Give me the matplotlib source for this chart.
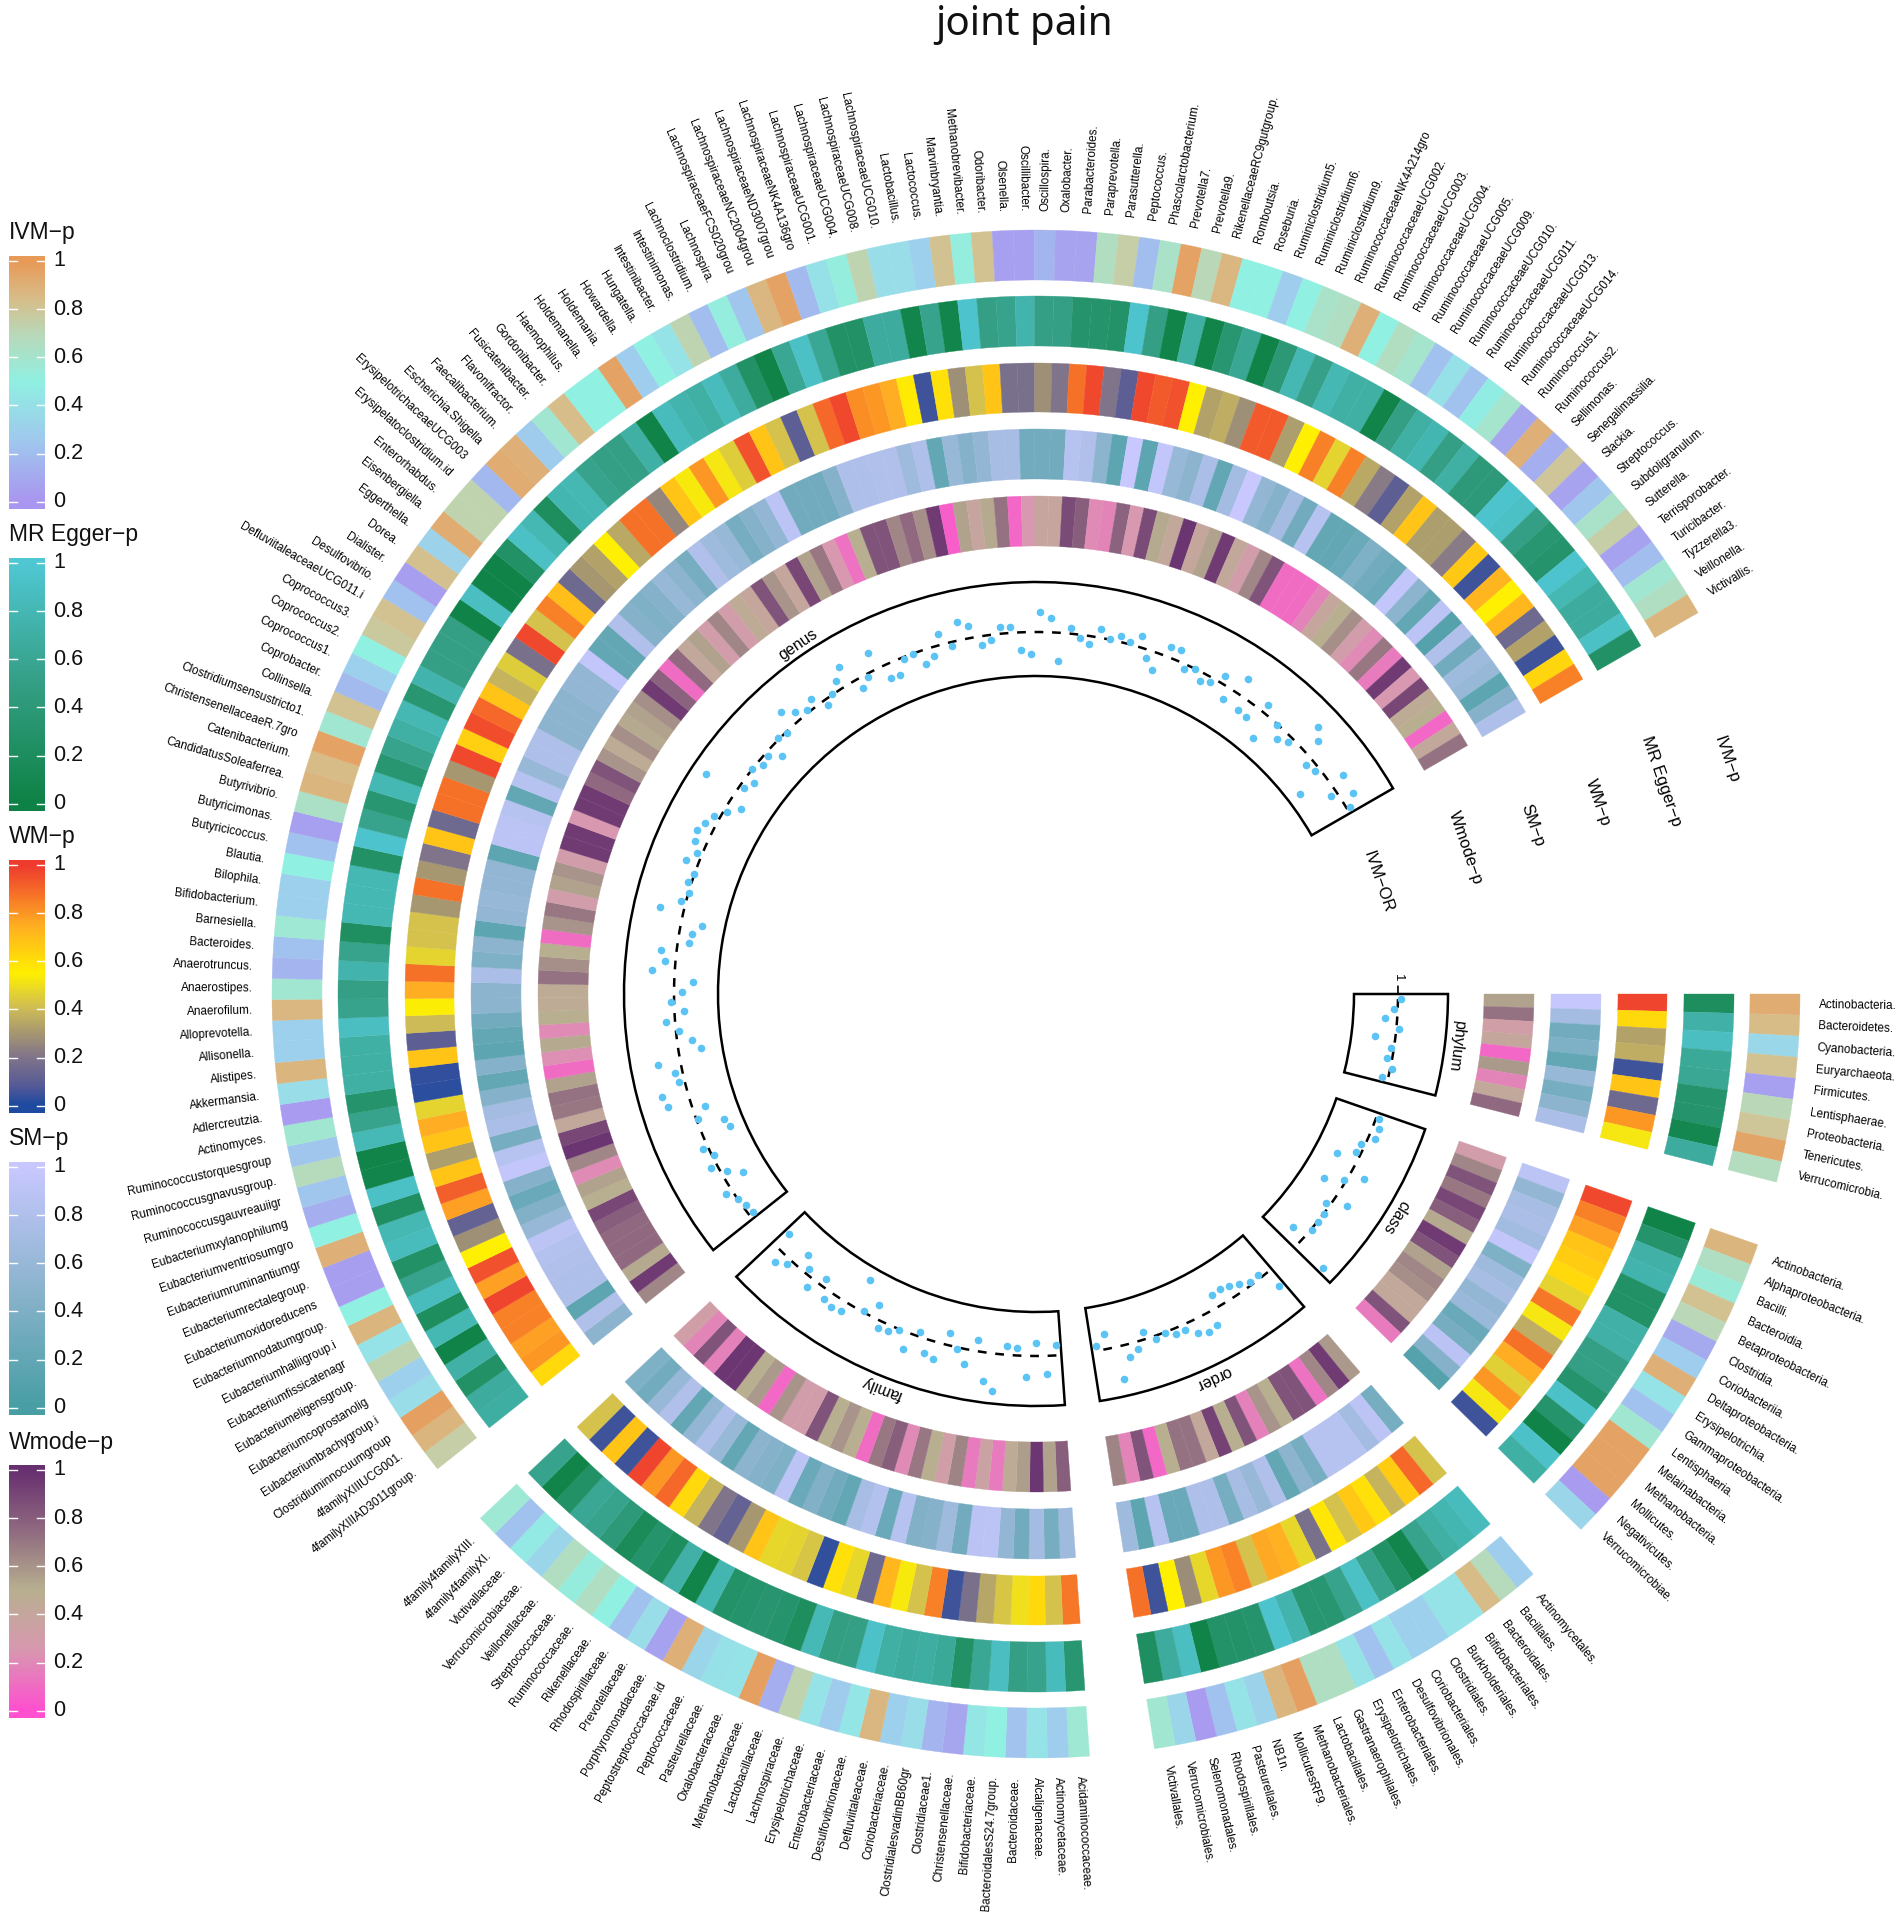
import numpy as np
import matplotlib
matplotlib.use("Agg")
import matplotlib.pyplot as plt
from matplotlib.colors import LinearSegmentedColormap

plt.rcParams['font.family'] = ['Liberation Sans', 'DejaVu Sans']

phylum_names = ["Actinobacteria.","Bacteroidetes.","Cyanobacteria.","Euryarchaeota.","Firmicutes.","Lentisphaerae.","Proteobacteria.","Tenericutes.","Verrucomicrobia."]
phylum_ivm = [.92,.85,.35,.82,.05,.7,.8,.95,.67]
phylum_egger = [.2,.72,.88,.62,.6,.3,.3,.08,.65]
phylum_wm = [.98,.62,.33,.36,.05,.68,.15,.8,.52]
phylum_sm = [.98,.7,.3,.4,.2,.6,.35,.5,.75]
phylum_wmode = [.55,.72,.32,.4,.08,.58,.18,.42,.75]
phylum_or = [1.011,.985,.950,1.011,.913,.987,.978,1.007,.974]

class_names = ["Actinobacteria.","Alphaproteobacteria.","Bacilli.","Bacteroidia.","Betaproteobacteria.","Clostridia.","Coriobacteriia.","Deltaproteobacteria.","Erysipelotrichia.","Gammaproteobacteria.","Lentisphaeria.","Melainabacteria.","Methanobacteria.","Mollicutes.","Negativicutes.","Verrucomicrobiae."]
class_ivm = [.88,.65,.55,.82,.7,.1,.28,.9,.42,.22,.58,.96,.96,.96,.03,.33]
class_egger = [.02,.3,.72,.75,.25,.25,.72,.72,.5,.5,.3,.92,.3,.02,.92,.7]
class_wm = [.97,.85,.78,.68,.66,.62,.47,.87,.52,.36,.88,.75,.46,.8,.52,.05]
class_sm = [.9,.55,.72,.75,.68,.95,.4,.65,.72,.55,.62,.25,.35,.88,.45,.1]
class_wmode = [.3,.65,.85,.7,.9,.8,.52,.95,.85,.55,.65,.62,.42,.42,.85,.15]
class_or = [1.013,1.028,1.030,.983,.976,.909,1.063,.991,.915,1.061,.980,1.004,1.002,1.004,.935,1.15]

order_names = ["Actinomycetales.","Bacillales.","Bacteroidales.","Bifidobacteriales.","Burkholderiales.","Clostridiales.","Coriobacteriales.","Desulfovibrionales.","Enterobacteriales.","Erysipelotrichales.","Gastranaerophilales.","Lactobacillales.","Methanobacteriales.","MollicutesRF9.","NB1n.","Pasteurellales.","Rhodospirillales.","Selenomonadales.","Verrucomicrobiales.","Victivallales."]
order_ivm = [.28,.68,.85,.42,.42,.3,.3,.42,.22,.42,.65,.65,.97,.88,.32,.42,.22,.03,.33,.58]
order_egger = [.85,.78,.7,.55,.05,.25,.55,.9,.55,.35,.35,.75,.95,.3,.28,.28,.02,.88,.65,.22]
order_wm = [.42,.9,.66,.38,.6,.67,.42,.58,.18,.48,.74,.76,.42,.84,.8,.48,.27,.55,.05,.88]
order_sm = [.35,.9,.7,.85,.85,.85,.35,.5,.2,.8,.6,.72,.35,.78,.78,.25,.25,.85,.15,.65]
order_wmode = [.58,.95,.65,.12,.85,.85,.5,.6,.17,.85,.5,.92,.42,.72,.72,.5,.08,.85,.18,.66]
order_or = [1.078,.983,.985,.965,.948,.939,.943,1.065,1.076,1.059,1.022,1.024,1.004,1.013,.967,1.030,1.054,1.139,.935,.978]

family_names = ["Acidaminococcaceae.","Actinomycetaceae.","Alcaligenaceae.","Bacteroidaceae.","BacteroidalesS24.7group.","Bifidobacteriaceae.","Christensenellaceae.","Clostridiaceae1.","ClostridialesvadinBB60gr","Coriobacteriaceae.","Defluviitaleaceae.","Desulfovibrionaceae.","Enterobacteriaceae.","Erysipelotrichaceae.","Lachnospiraceae.","Lactobacillaceae.","Methanobacteriaceae.","Oxalobacteraceae.","Pasteurellaceae.","Peptococcaceae.","Peptostreptococcaceae.id","Porphyromonadaceae.","Prevotellaceae.","Rhodospirillaceae.","Rikenellaceae.","Ruminococcaceae.","Streptococcaceae.","Veillonellaceae.","Verrucomicrobiaceae.","Victivallaceae.","4family4familyXI.","4family4familyXIII."]
family_ivm = [.57,.28,.42,.23,.5,.44,.08,.15,.38,.3,.87,.43,.27,.42,.73,.12,.97,.42,.4,.33,.9,.06,.38,.22,.5,.65,.53,.66,.33,.46,.22,.57]
family_egger = [.35,.85,.55,.5,.88,.6,.25,.62,.68,.65,.7,.92,.5,.48,.82,.2,.3,.33,.3,.28,.78,.03,.72,.2,.3,.15,.4,.55,.6,.25,.03,.55]
family_wm = [.87,.42,.62,.5,.43,.34,.18,.05,.85,.42,.53,.72,.15,.48,.6,.03,.43,.47,.48,.68,.3,.12,.2,.38,.62,.9,.8,.98,.05,.68,.05,.42]
family_sm = [.65,.35,.7,.3,.55,.9,.88,.3,.65,.45,.42,.85,.25,.82,.72,.2,.3,.42,.25,.9,.4,.45,.5,.2,.6,.78,.55,.2,.8,.6,.3,.4]
family_wmode = [.8,.55,.97,.57,.45,.15,.35,.15,.66,.32,.5,.7,.2,.8,.7,.1,.5,.6,.5,.85,.3,.3,.6,.08,.58,.5,.97,.97,.17,.85,.18,.32]
family_or = [.957,1.076,.946,1.091,.967,.961,1.157,1.120,.952,1.065,1.007,.946,1.074,1.061,.980,1.074,1.004,1.028,1.030,.941,.993,.867,1.046,1.052,1.039,.967,1.043,.976,.935,1.024,1.050,.926]

genus_names = ["4familyXIIIAD3011group.","4familyXIIIUCG001.","Clostridiuminnocuumgroup","Eubacteriumbrachygroup.i","Eubacteriumcoprostanolig","Eubacteriumeligensgroup.","Eubacteriumfissicatenagr","Eubacteriumhalliigroup.i","Eubacteriumnodatumgroup.","Eubacteriumoxidoreducens","Eubacteriumrectalegroup.","Eubacteriumruminantiumgr","Eubacteriumventriosumgro","Eubacteriumxylanophilumg","Ruminococcusgauvreauiigr","Ruminococcusgnavusgroup.","Ruminococcustorquesgroup","Actinomyces.","Adlercreutzia.","Akkermansia.","Alistipes.","Allisonella.","Alloprevotella.","Anaerofilum.","Anaerostipes.","Anaerotruncus.","Bacteroides.","Barnesiella.","Bifidobacterium.","Bilophila.","Blautia.","Butyricicoccus.","Butyricimonas.","Butyrivibrio.","CandidatusSoleaferrea.","Catenibacterium.","ChristensenellaceaeR.7gro","Clostridiumsensustricto1.","Collinsella.","Coprobacter.","Coprococcus1.","Coprococcus2.","Coprococcus3.","DefluviitaleaceaeUCG011.i","Desulfovibrio.","Dialister.","Dorea.","Eggerthella.","Eisenbergiella.","Enterorhabdus.","Erysipelatoclostridium.id","ErysipelotrichaceaeUCG003","Escherichia.Shigella","Faecalibacterium.","Flavonifractor.","Fusicatenibacter.","Gordonibacter.","Haemophilus.","Holdemanella.","Holdemania.","Howardella.","Hungatella.","Intestinibacter.","Intestinimonas.","Lachnoclostridium.","Lachnospira.","LachnospiraceaeFCS020grou","LachnospiraceaeNC2004grou","LachnospiraceaeND3007grou","LachnospiraceaeNK4A136gro","LachnospiraceaeUCG001.","LachnospiraceaeUCG004.","LachnospiraceaeUCG008.","LachnospiraceaeUCG010.","Lactobacillus.","Lactococcus.","Marvinbryantia.","Methanobrevibacter.","Odoribacter.","Olsenella.","Oscillibacter.","Oscillospira.","Oxalobacter.","Parabacteroides.","Paraprevotella.","Parasutterella.","Peptococcus.","Phascolarctobacterium.","Prevotella7.","Prevotella9.","RikenellaceaeRC9gutgroup.","Romboutsia.","Roseburia.","Ruminiclostridium5.","Ruminiclostridium6.","Ruminiclostridium9.","RuminococcaceaeNK4A214gro","RuminococcaceaeUCG002.","RuminococcaceaeUCG003.","RuminococcaceaeUCG004.","RuminococcaceaeUCG005.","RuminococcaceaeUCG009.","RuminococcaceaeUCG010.","RuminococcaceaeUCG011.","RuminococcaceaeUCG013.","RuminococcaceaeUCG014.","Ruminococcus1.","Ruminococcus2.","Sellimonas.","Senegalimassilia.","Slackia.","Streptococcus.","Subdoligranulum.","Sutterella.","Terrisporobacter.","Turicibacter.","Tyzzerella3.","Veillonella.","Victivallis."]
genus_ivm = [.75,.88,.97,.38,.3,.72,.42,.88,.5,.04,.04,.9,.5,.12,.24,.68,.24,.58,.03,.38,.88,.3,.3,.87,.58,.15,.22,.57,.3,.3,.5,.22,.05,.63,.88,.85,.96,.58,.82,.18,.3,.5,.78,.82,.22,.04,.83,.32,.92,.73,.73,.17,.92,.9,.27,.58,.84,.5,.5,.96,.28,.5,.42,.72,.2,.52,.24,.87,.96,.18,.4,.52,.72,.38,.38,.3,.82,.52,.82,.05,.05,.16,.07,.07,.66,.75,.2,.62,.96,.7,.87,.5,.5,.28,.5,.62,.65,.9,.5,.66,.6,.22,.4,.22,.48,.6,.08,.9,.12,.8,.07,.24,.62,.75,.06,.2,.58,.65,.88]
genus_egger = [.68,.65,.25,.72,.02,.8,.2,.85,.55,.25,.85,.8,.22,.9,.05,.03,.82,.55,.3,.7,.7,.7,.88,.55,.5,.75,.55,.22,.8,.8,.8,.25,.95,.55,.35,.8,.35,.55,.7,.8,.35,.75,.5,.5,.5,.02,.88,.02,.02,.25,.9,.8,.2,.78,.8,.55,.5,.5,.7,.02,.85,.75,.7,.85,.65,.25,.02,.6,.9,.6,.25,.25,.65,.65,.05,.55,.05,.95,.5,.55,.75,.5,.5,.3,.3,.28,.95,.5,.03,.7,.03,.35,.6,.02,.38,.8,.52,.8,.7,.7,.03,.5,.7,.78,.5,.7,.4,.4,.95,.9,.5,.35,.3,.95,.8,.65,.65,.9,.25]
genus_wm = [.62,.8,.78,.85,.85,.98,.78,.95,.55,.28,.12,.78,.92,.68,.32,.68,.75,.47,.02,.03,.68,.1,.4,.54,.75,.88,.47,.42,.42,.3,.88,.3,.2,.68,.15,.88,.88,.3,.97,.65,.96,.9,.68,.38,.45,.18,.97,.42,.85,.7,.15,.3,.33,.55,.35,.88,.88,.25,.68,.53,.8,.52,.45,.95,.68,.42,.1,.42,.9,.97,.82,.8,.75,.57,.05,.6,.28,.42,.68,.18,.18,.28,.2,.88,.97,.2,.1,.97,.93,.95,.55,.33,.36,.28,.93,.93,.32,.55,.85,.47,.85,.35,.22,.1,.33,.68,.32,.32,.22,.67,.05,.73,.55,.72,.15,.33,.05,.63,.85]
genus_sm = [.5,.8,.15,.78,.78,.8,.82,.9,.6,.42,.25,.45,.95,.85,.35,.75,.7,.45,.2,.45,.15,.2,.3,.5,.5,.75,.4,.5,.15,.55,.6,.55,.55,.15,.9,.9,.85,.2,.85,.6,.78,.78,.5,.5,.5,.55,.55,.95,.2,.2,.8,.45,.4,.45,.6,.5,.35,.8,.65,.6,.35,.45,.55,.9,.3,.3,.3,.45,.78,.78,.8,.8,.65,.78,.2,.6,.45,.55,.72,.72,.3,.3,.3,.85,.8,.5,.15,1.0,.15,.95,.6,.5,.75,.2,.7,1.0,.55,.45,.7,.3,.85,.2,.2,.25,.4,.3,.25,.95,.5,.2,.9,.1,.8,.3,.65,.6,.15,.45,.78]
genus_wmode = [.65,.95,.52,.75,.75,.75,.8,.9,.5,.55,.2,.65,.98,.9,.42,.7,.72,.55,.1,.22,.52,.2,.5,.45,.45,.72,.62,.5,.1,.6,.7,.3,.55,.6,.3,.95,.95,.25,.95,.95,.75,.85,.6,.45,.62,.52,.55,.62,.95,.78,.1,.75,.42,.55,.3,.65,.3,.45,.4,.85,.6,.4,.9,.55,.7,.25,.12,.5,.85,.85,.65,.75,.62,.95,.05,.55,.38,.52,.72,.08,.25,.38,.38,.88,.8,.2,.18,.78,.25,.88,.52,.42,.98,.4,.55,.95,.42,.3,.65,.85,.1,.1,.1,.18,.4,.5,.62,.3,.2,.7,.15,.95,.25,.9,.45,.5,.08,.42,.72]
genus_or = [.978,.985,1.0,1.028,.920,.976,1.030,.993,1.022,.876,.889,.993,.948,1.098,1.111,1.026,1.030,1.096,.904,.935,.985,1.039,.959,1.011,.965,.922,1.096,1.046,1.067,.950,.946,.911,1.102,1.020,.996,1.015,1.002,1.054,1.022,1.050,1.063,1.043,1.026,.987,.943,1.148,.983,.959,1.004,.976,.983,.939,1.007,.996,1.076,1.037,1.011,1.037,.976,1.004,1.043,1.085,.957,.987,1.078,.939,.937,.993,.998,.941,.961,1.046,.985,1.078,1.052,.961,.976,1.030,1.024,.924,.907,1.085,1.061,.880,1.022,.987,.965,1.037,1.002,1.024,1.011,1.050,.963,.926,1.046,1.046,.980,1.0,.963,.978,1.033,.946,1.074,.943,.939,1.037,.889,.998,.952,.976,1.113,1.072,.967,.980,.870,1.065,.974,1.057,1.013]

sector_titles = ["phylum", "class", "order", "family", "genus"]
track_titles = ["IVM\u2212p", "MR Egger\u2212p", "WM\u2212p", "SM\u2212p", "Wmode\u2212p"]
legend_ticks = [0, 0.2, 0.4, 0.6, 0.8, 1]
legend_ticklabels = ["0", "0.2", "0.4", "0.6", "0.8", "1"]

W, H = 1902, 1916
CX, CY, RMAX = 1036, 994, 800
CELL, GAP = 1.584, 4.9

cmaps = [
    LinearSegmentedColormap.from_list("ivm", [(0, "#A996F0"), (.25, "#A0C8EE"), (.5, "#90F0E2"), (.7, "#BAD8B8"), (.85, "#D8BC88"), (1, "#E89A58")]),
    LinearSegmentedColormap.from_list("egger", [(0, "#0E8246"), (.5, "#359F85"), (1, "#50C8D4")]),
    LinearSegmentedColormap.from_list("wm", [(0, "#1E4AA0"), (.08, "#565A96"), (.2, "#80748A"), (.4, "#CDBB58"), (.55, "#FFF000"), (.75, "#FFAE22"), (1, "#EE3B2E")]),
    LinearSegmentedColormap.from_list("sm", [(0, "#489EA4"), (.5, "#8CB4CE"), (1, "#C8C8FF")]),
    LinearSegmentedColormap.from_list("wmode", [(0, "#FF50D0"), (.25, "#D898B0"), (.5, "#B8B090"), (.75, "#906A80"), (1, "#683070")]),
]
track_r = [(714, 764), (648, 698), (582, 631), (515, 565), (448, 498)]
track_title_r = [729, 661, 594, 525, 454]
BOX_R = (318, 412)
LABEL_R = 783
dot_color = "#5CC4F5"


def or_to_r(v):
    return 362 + (np.asarray(v) - 1) * 235


sectors = [
    (phylum_names, [phylum_ivm, phylum_egger, phylum_wm, phylum_sm, phylum_wmode], phylum_or),
    (class_names, [class_ivm, class_egger, class_wm, class_sm, class_wmode], class_or),
    (order_names, [order_ivm, order_egger, order_wm, order_sm, order_wmode], order_or),
    (family_names, [family_ivm, family_egger, family_wm, family_sm, family_wmode], family_or),
    (genus_names, [genus_ivm, genus_egger, genus_wm, genus_sm, genus_wmode], genus_or),
]

fig = plt.figure(figsize=(W / 100, H / 100), dpi=100, facecolor="white")
ax = fig.add_axes([(CX - RMAX) / W, (H - CY - RMAX) / H, 2 * RMAX / W, 2 * RMAX / H], projection="polar")
ax.set_ylim(0, RMAX)
ax.set_axis_off()

start = 0.0
for title, (names, tracks, ors) in zip(sector_titles, sectors):
    n = len(names)
    centers = start - (np.arange(n) + 0.5) * CELL
    th = np.deg2rad(centers)
    w = np.deg2rad(CELL)
    for vals, cmap, (r0, r1) in zip(tracks, cmaps, track_r):
        cols = cmap(np.asarray(vals))
        ax.bar(th, r1 - r0, width=w, bottom=r0, color=cols, edgecolor=cols, linewidth=0.25, zorder=2)
    mid = start - n * CELL / 2
    ax.bar(np.deg2rad(mid), BOX_R[1] - BOX_R[0], width=np.deg2rad(n * CELL), bottom=BOX_R[0],
           fill=False, edgecolor="black", linewidth=1.8, zorder=3)
    ax.plot(th, np.full(n, 362.0), color="black", lw=1.8, dashes=(3.5, 3.5), zorder=4)
    ax.scatter(th, or_to_r(ors), s=30, color=dot_color, linewidths=0, zorder=5)
    ax.text(np.deg2rad(mid), 423, title, rotation=mid - 90, rotation_mode="anchor", ha="center", va="center",
            fontsize=11.5, clip_on=False)
    for name, d in zip(names, centers):
        a = d % 360
        if 90 < a < 270:
            rot, ha = a + 180, "right"
        else:
            rot, ha = a, "left"
        ax.text(np.deg2rad(d), LABEL_R, name, rotation=rot, rotation_mode="anchor", ha=ha, va="center",
                fontsize=8.5, color="#000000", clip_on=False)
    start -= n * CELL + GAP

# axis tick of the scatter track
ax.plot(np.deg2rad([0, 1.2]), [362, 362], color="black", lw=1.2, zorder=4, clip_on=False)
ax.text(np.deg2rad(2.6), 362, "1", rotation=-90, rotation_mode="anchor", ha="center", va="center", fontsize=9.5)

# track names in the open gap
ax.text(np.deg2rad(18.2), 360, "IVM\u2212OR", rotation=-71, rotation_mode="anchor", ha="center", va="center", fontsize=12)
for title, r in zip(track_titles, track_title_r):
    ax.text(np.deg2rad(18.8), r, title, rotation=-71, rotation_mode="anchor", ha="center", va="center", fontsize=12)

# colour legends
bar_tops = [256, 558, 860, 1162, 1465]
bar_h = 253
gradient = np.linspace(1.02, -0.03, 256).reshape(-1, 1)
for title, cmap, top in zip(track_titles, cmaps, bar_tops):
    cax = fig.add_axes([9 / W, (H - top - bar_h) / H, 36 / W, bar_h / H])
    cax.imshow(np.clip(gradient, 0, 1), cmap=cmap, vmin=0, vmax=1, aspect="auto", extent=[0, 1, -0.03, 1.02])
    cax.set_xticks([])
    cax.set_yticks([])
    for sp in cax.spines.values():
        sp.set_visible(False)
    for t, lab in zip(legend_ticks, legend_ticklabels):
        cax.plot([0, 0.22], [t, t], color="white", lw=1)
        cax.plot([0.78, 1], [t, t], color="white", lw=1)
        fig.text(53 / W, (H - top - bar_h + (t + 0.03) / 1.05 * bar_h) / H, lab, fontsize=15.5, va="center", ha="left", color="#111111")
    cax.set_xlim(0, 1)
    cax.set_ylim(-0.03, 1.02)
    fig.text(9 / W, (H - top + 23) / H, title, fontsize=16.5, va="center", ha="left", color="#111111")

fig.text(1024 / W, 1 - 25 / H, "joint pain", fontsize=29, ha="center", va="center",
         family=["Noto Sans", "DejaVu Sans"], color="#111111")

fig.savefig("out.png", dpi=100, facecolor="white")
